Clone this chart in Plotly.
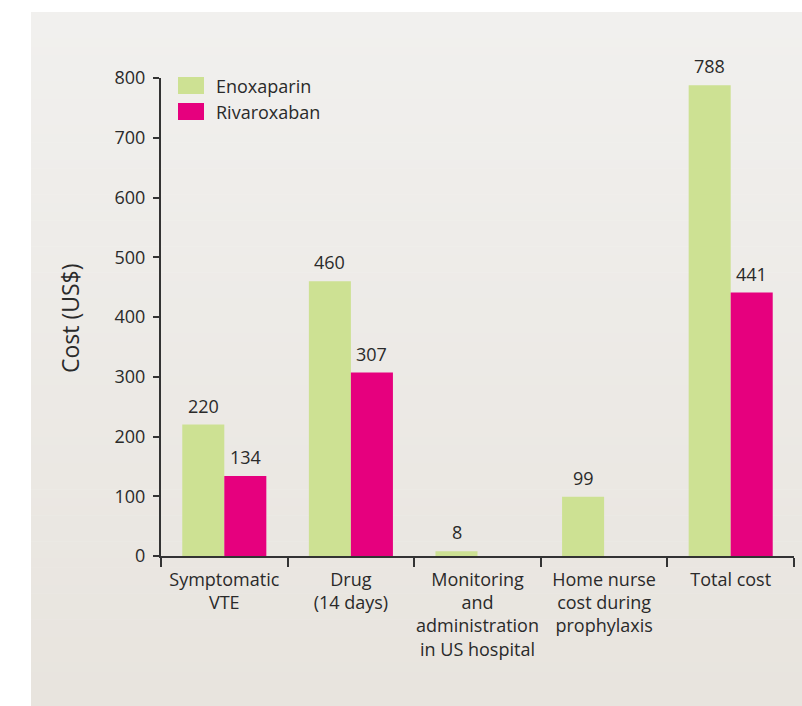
import plotly.graph_objects as go

# ---- data ----
categories = [
    "Symptomatic<br>VTE",
    "Drug<br>(14 days)",
    "Monitoring<br>and<br>administration<br>in US hospital",
    "Home nurse<br>cost during<br>prophylaxis",
    "Total cost",
]
series_names = ["Enoxaparin", "Rivaroxaban"]
enoxaparin = [220, 460, 8, 99, 788]
rivaroxaban = [134, 307, None, None, 441]
y_ticks = [0, 100, 200, 300, 400, 500, 600, 700, 800]
y_title = "Cost (US$)"

# ---- styling ----
GREEN = "#cde193"
PINK = "#e6007e"
TEXT = "#2a2a2a"
AXIS = "#333333"
FONT = "Open Sans, Noto Sans, sans-serif"

W, H = 802, 706
L, R, T, B = 161, 8, 78, 150
PW, PH = W - L - R, H - T - B


def px_x(p):
    return (p - L) / PW


def px_y(p):
    return (H - B - p) / PH


fig = go.Figure()
for name, vals, col in [(series_names[0], enoxaparin, GREEN),
                        (series_names[1], rivaroxaban, PINK)]:
    fig.add_trace(go.Bar(
        name=name, x=categories, y=vals,
        marker=dict(color=col, line=dict(width=0)),
        showlegend=False,
    ))

shapes = []
# soft vertical gradient behind the chart
top_c = (241, 240, 238)
bot_c = (232, 228, 222)
panel_left, panel_right, panel_top, panel_bot = 31, 802, 12, 706
n_bands = 80
band_h = (panel_bot - panel_top) / n_bands
for i in range(n_bands):
    t = i / (n_bands - 1)
    c = tuple(round(top_c[k] + (bot_c[k] - top_c[k]) * t) for k in range(3))
    y0 = panel_top + i * band_h
    y1 = y0 + band_h + 0.6
    shapes.append(dict(
        type="rect", xref="paper", yref="paper", layer="below",
        x0=px_x(panel_left), x1=px_x(panel_right),
        y0=px_y(min(y1, panel_bot)), y1=px_y(y0),
        fillcolor="rgb(%d,%d,%d)" % c, line=dict(width=0),
    ))

annotations = []
# value labels above each bar
for vals, shift in [(enoxaparin, -21), (rivaroxaban, 21)]:
    for cat, v in zip(categories, vals):
        if v is None:
            continue
        annotations.append(dict(
            x=cat, y=v, xref="x", yref="y", text=str(v),
            showarrow=False, xanchor="center", yanchor="bottom",
            xshift=shift, yshift=5,
            font=dict(family=FONT, size=18, color=TEXT),
        ))

# legend swatches and labels
for i, (name, col) in enumerate(zip(series_names, [GREEN, PINK])):
    y0 = 77 + i * 26
    shapes.append(dict(
        type="rect", xref="paper", yref="paper",
        x0=px_x(178), x1=px_x(204), y0=px_y(y0 + 17), y1=px_y(y0),
        fillcolor=col, line=dict(width=0),
    ))
    annotations.append(dict(
        x=px_x(214), y=px_y(y0 + 8.5), xref="paper", yref="paper",
        text=name, showarrow=False, xanchor="left", yanchor="middle",
        font=dict(family=FONT, size=18, color=TEXT),
    ))

# y-axis title
annotations.append(dict(
    x=px_x(70), y=px_y(318), xref="paper", yref="paper",
    text=y_title, textangle=-90, showarrow=False,
    xanchor="center", yanchor="middle",
    font=dict(family=FONT, size=23, color=TEXT),
))

fig.update_layout(
    width=W, height=H, autosize=False,
    margin=dict(l=L, r=R, t=T, b=B, pad=0, autoexpand=False),
    paper_bgcolor="white", plot_bgcolor="rgba(0,0,0,0)",
    barmode="group", bargap=0.336, bargroupgap=0,
    shapes=shapes, annotations=annotations,
    font=dict(family=FONT, size=18, color=TEXT),
    showlegend=False,
)
fig.update_xaxes(
    type="category", range=[-0.5, len(categories) - 0.5],
    tickson="boundaries", ticks="outside", ticklen=9, tickwidth=2,
    tickcolor=AXIS, showline=True, linewidth=2, linecolor=AXIS,
    showgrid=False, zeroline=False, tickangle=0, automargin=False,
    tickfont=dict(family=FONT, size=18, color=TEXT),
    ticklabelstandoff=6,
)
fig.update_yaxes(
    range=[0, 800], tickvals=y_ticks, ticks="outside", ticklen=6,
    tickwidth=2, tickcolor=AXIS, showline=True, linewidth=2,
    linecolor=AXIS, showgrid=False, zeroline=False, automargin=False,
    tickfont=dict(family=FONT, size=18, color=TEXT),
    ticklabelstandoff=4,
)

fig.write_html("out.html")
